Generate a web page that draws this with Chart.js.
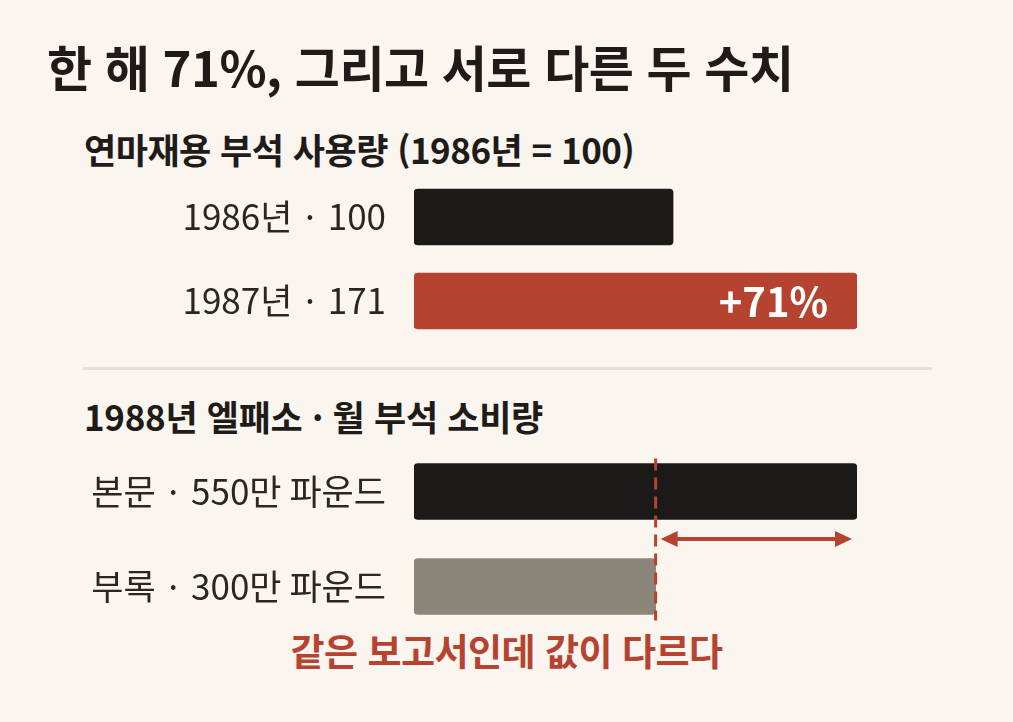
<!DOCTYPE html>
<html lang="ko">
<head>
<meta charset="utf-8">
<script src="https://cdn.jsdelivr.net/npm/chart.js@4.4.1/dist/chart.umd.min.js"></script>
<style>
  body { margin: 0; background: #faf5ef; width: 1013px; height: 722px; overflow: hidden; position: relative;
         font-family: "Noto Sans CJK KR", "Noto Sans", sans-serif; color: #1e1b18; }
  .t { position: absolute; white-space: nowrap; line-height: 1; }
  #title { left: 47px; top: 41px; font-size: 49px; font-weight: 700; letter-spacing: -0.5px; }
  #sub1 { left: 84px; top: 131px; font-size: 35px; font-weight: 700; letter-spacing: -0.5px; }
  #sub2 { left: 84px; top: 398px; font-size: 35px; font-weight: 700; letter-spacing: -0.3px; }
  #note { left: 0; width: 1013px; text-align: center; top: 632px; font-size: 37px; font-weight: 700; color: #b5432f; letter-spacing: -0.5px; }
  #rule { position: absolute; left: 83px; width: 849px; top: 367px; height: 3px; background: #e8dfd2; }
  canvas { position: absolute; left: 0; }
  #c1 { top: 175px; }
  #c2 { top: 444px; }
</style>
</head>
<body>
<div class="t" id="title">한 해 71%, 그리고 서로 다른 두 수치</div>
<div class="t" id="sub1">연마재용 부석 사용량 (1986년 = 100)</div>
<div id="rule"></div>
<div class="t" id="sub2">1988년 엘패소 · 월 부석 소비량</div>
<div class="t" id="note">같은 보고서인데 값이 다르다</div>
<canvas id="c1" width="1013" height="168"></canvas>
<canvas id="c2" width="1013" height="190"></canvas>
<script>
// 연마재용 부석 사용량 지수 (1986 = 100)
const indexLabels = ['1986년 · 100', '1987년 · 171'];
const indexValues = [100, 171];
const indexColors = ['#1c1a18', '#b5432f'];

// 1988년 엘패소 월 소비량 (만 파운드)
const monthLabels = ['본문 · 550만 파운드', '부록 · 300만 파운드'];
const monthValues = [550, 300];
const monthColors = ['#1c1a18', '#8c857a'];

const RED = '#b5432f';
const FONT = '"Noto Sans CJK KR", "Noto Sans", sans-serif';

function baseOptions(maxVal) {
  return {
    indexAxis: 'y',
    responsive: false,
    animation: false,
    devicePixelRatio: 1,
    layout: { padding: { left: 0, right: 156, top: 0, bottom: 0 } },
    plugins: { legend: { display: false }, tooltip: { enabled: false } },
    scales: {
      x: { display: false, min: 0, max: maxVal },
      y: {
        grid: { display: false, drawTicks: false },
        border: { display: false },
        ticks: { color: '#2a2622', padding: 28, font: { family: FONT, size: 35 } },
        afterFit(scale) {
          // fixed label column; no extra vertical padding for the tick labels
          scale.width = 414;
          scale.paddingTop = 0;
          scale.paddingBottom = 0;
        }
      }
    }
  };
}

// "+71%" label inside the 1987 bar
const growthLabel = {
  id: 'growthLabel',
  afterDatasetsDraw(chart) {
    const bar = chart.getDatasetMeta(0).data[1];
    const pct = Math.round((indexValues[1] / indexValues[0] - 1) * 100);
    const ctx = chart.ctx;
    ctx.save();
    ctx.fillStyle = '#ffffff';
    ctx.font = '700 40px ' + FONT;
    ctx.textAlign = 'right';
    ctx.textBaseline = 'middle';
    ctx.fillText('+' + pct + '%', bar.x - 29, bar.y + 1);
    ctx.restore();
  }
};

// dashed marker at the appendix value and a double arrow to the main value
const gapMarker = {
  id: 'gapMarker',
  afterDatasetsDraw(chart) {
    const ctx = chart.ctx;
    const xs = chart.scales.x;
    const bars = chart.getDatasetMeta(0).data;
    const xLow = xs.getPixelForValue(monthValues[1]);
    const xHigh = xs.getPixelForValue(monthValues[0]);
    const top0 = bars[0].y - bars[0].height / 2;
    const bot0 = bars[0].y + bars[0].height / 2;
    const top1 = bars[1].y - bars[1].height / 2;
    const bot1 = bars[1].y + bars[1].height / 2;

    ctx.save();
    ctx.strokeStyle = RED;
    ctx.lineWidth = 3;
    ctx.setLineDash([12, 7]);
    ctx.beginPath();
    ctx.moveTo(xLow, top0 - 5);
    ctx.lineTo(xLow, bot1 + 6);
    ctx.stroke();

    const ay = (bot0 + top1) / 2;
    const x1 = xLow + 5, x2 = xHigh - 5;
    ctx.setLineDash([]);
    ctx.lineWidth = 4;
    ctx.beginPath();
    ctx.moveTo(x1 + 12, ay);
    ctx.lineTo(x2 - 12, ay);
    ctx.stroke();
    ctx.fillStyle = RED;
    ctx.beginPath();
    ctx.moveTo(x1, ay); ctx.lineTo(x1 + 17, ay - 8); ctx.lineTo(x1 + 17, ay + 8); ctx.closePath();
    ctx.fill();
    ctx.beginPath();
    ctx.moveTo(x2, ay); ctx.lineTo(x2 - 17, ay - 8); ctx.lineTo(x2 - 17, ay + 8); ctx.closePath();
    ctx.fill();
    ctx.restore();
  }
};

new Chart(document.getElementById('c1'), {
  type: 'bar',
  data: {
    labels: indexLabels,
    datasets: [{ data: indexValues, backgroundColor: indexColors, borderRadius: 4, borderSkipped: false, barThickness: 56 }]
  },
  options: baseOptions(indexValues[1]),
  plugins: [growthLabel]
});

new Chart(document.getElementById('c2'), {
  type: 'bar',
  data: {
    labels: monthLabels,
    datasets: [{ data: monthValues, backgroundColor: monthColors, borderRadius: 4, borderSkipped: false, barThickness: 56 }]
  },
  options: baseOptions(monthValues[0]),
  plugins: [gapMarker]
});
</script>
</body>
</html>
